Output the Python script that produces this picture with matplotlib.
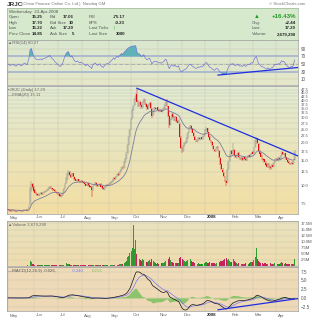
import numpy as np
import pandas as pd
import matplotlib
matplotlib.use("Agg")
import matplotlib.pyplot as plt
from matplotlib.colors import LinearSegmentedColormap
from matplotlib.transforms import blended_transform_factory

plt.rcParams['font.family'] = ['Liberation Sans', 'DejaVu Sans']

# trading days May 2007 - 23 Apr 2008
holidays = ['2007-05-28', '2007-07-04', '2007-09-03', '2007-11-22', '2007-12-25',
            '2008-01-01', '2008-01-21', '2008-02-18', '2008-03-21']
dates = pd.bdate_range('2007-05-01', '2008-04-23', freq='C', holidays=holidays)

# daily prices, month by month
closes = [
    6.75, 6.70, 6.62, 6.68, 6.72, 6.65, 6.60, 6.58, 6.66, 6.70, 6.64, 6.60, 6.62, 6.68, 6.74, 6.70, 6.66, 6.80, 7.10, 9.40, 10.20, 9.70,
    9.20, 8.90, 8.70, 8.60, 8.55, 8.70, 8.80, 8.65, 8.90, 9.00, 9.10, 9.20, 9.40, 9.60, 9.75, 9.55, 9.40, 9.30, 9.10, 8.95, 8.80,
    8.70, 8.50, 8.40, 8.55, 8.80, 9.40, 10.30, 11.20, 12.00, 12.40, 11.80, 11.50, 12.10, 11.60, 11.10, 10.80, 10.90, 11.00, 10.70, 10.60, 10.80,
    10.60, 10.40, 10.20, 10.00, 10.30, 10.10, 9.80, 9.70, 9.30, 9.90, 10.20, 10.40, 10.10, 9.90, 10.00, 10.20, 9.80, 9.60, 9.40, 9.70, 9.90, 10.10, 10.00,
    10.20, 10.40, 10.60, 10.90, 11.30, 11.10, 11.60, 12.00, 11.80, 12.40, 12.90, 13.40, 13.20, 14.60, 15.40, 16.80, 19.20, 22.00, 24.50,
    29.50, 33.80, 36.50, 40.50, 43.00, 39.00, 36.50, 38.20, 37.00, 35.50, 38.50, 40.00, 37.50, 36.00, 34.80, 36.80, 38.00, 35.00, 31.00, 33.50, 35.20, 34.60, 35.40,
    34.20, 33.50, 34.00, 33.20, 34.50, 35.00, 36.80, 38.50, 36.00, 31.00, 26.50, 29.50, 31.50, 30.20, 29.00, 30.50, 28.50, 27.80, 29.00, 22.00, 18.50,
    17.60, 19.00, 19.80, 20.20, 21.50, 23.50, 25.50, 26.20, 25.00, 23.50, 22.20, 21.00, 20.40, 20.80, 21.60, 21.20, 21.80, 21.40, 22.20, 23.00,
    24.50, 25.20, 23.80, 22.00, 20.80, 20.20, 19.20, 18.00, 17.40, 18.20, 18.60, 17.80, 15.80, 14.20, 13.00, 12.40, 11.60, 10.80, 10.40, 12.90, 14.70,
    16.20, 17.40, 16.80, 17.60, 16.40, 15.80, 16.50, 16.90, 15.90, 15.40, 15.60, 15.20, 15.80, 15.50, 15.10, 15.70, 16.20, 16.00, 16.60, 17.00,
    16.80, 18.50, 20.50, 21.40, 19.80, 17.60, 16.80, 16.00, 15.40, 15.20, 14.60, 14.00, 13.60, 14.20, 13.40, 13.20, 13.80, 13.60, 14.50, 15.20,
    15.40, 15.10, 15.60, 15.30, 16.20, 17.00, 16.60, 16.80, 16.00, 15.20, 14.60, 14.30, 14.10, 14.40, 14.20, 14.85, 17.29,
]
opens = [
    6.80, 6.76, 6.70, 6.60, 6.66, 6.74, 6.66, 6.62, 6.56, 6.68, 6.72, 6.66, 6.58, 6.60, 6.70, 6.76, 6.70, 6.64, 6.82, 7.40, 9.30, 10.30,
    9.70, 9.25, 8.95, 8.75, 8.62, 8.50, 8.72, 8.85, 8.60, 8.85, 9.05, 9.08, 9.22, 9.38, 9.58, 9.80, 9.55, 9.45, 9.32, 9.05, 8.98,
    8.82, 8.72, 8.55, 8.35, 8.58, 8.85, 9.45, 10.40, 11.10, 11.90, 12.50, 11.85, 11.45, 12.20, 11.55, 11.15, 10.75, 10.85, 11.05, 10.75, 10.55,
    10.85, 10.62, 10.45, 10.22, 9.95, 10.35, 10.15, 9.85, 9.75, 9.25, 9.95, 10.25, 10.45, 10.15, 9.85, 10.05, 10.25, 9.85, 9.65, 9.35, 9.75, 9.95, 10.15,
    10.05, 10.25, 10.45, 10.65, 10.95, 11.35, 11.15, 11.65, 12.05, 11.85, 12.45, 12.95, 13.45, 13.30, 14.70, 15.50, 16.90, 19.40, 22.20,
    24.80, 29.80, 34.20, 36.80, 41.00, 44.50, 39.20, 36.30, 38.50, 37.20, 35.30, 38.80, 40.20, 37.30, 36.20, 34.60, 37.00, 38.20, 34.80, 31.20, 33.80, 35.40, 34.40,
    35.50, 34.30, 33.40, 34.10, 33.10, 34.60, 35.10, 36.90, 39.50, 36.20, 30.80, 26.80, 29.60, 31.80, 30.30, 28.80, 30.60, 28.60, 27.70, 27.00, 21.80,
    18.40, 17.40, 19.10, 19.90, 20.30, 21.60, 23.60, 25.70, 26.30, 25.10, 23.40, 22.10, 21.10, 20.30, 20.90, 21.70, 21.10, 21.90, 21.30, 22.30,
    23.10, 24.60, 25.30, 23.70, 22.10, 20.90, 20.30, 19.10, 17.90, 17.50, 18.30, 18.70, 17.60, 15.70, 14.10, 12.90, 12.30, 11.50, 10.70, 10.50, 13.00,
    14.90, 16.30, 17.50, 16.70, 17.80, 16.30, 15.70, 16.60, 17.00, 15.80, 15.30, 15.70, 15.10, 15.90, 15.40, 15.00, 15.80, 16.30, 15.90, 16.70,
    17.10, 16.90, 18.60, 20.60, 21.50, 19.70, 17.50, 16.90, 16.10, 15.30, 15.30, 14.50, 14.10, 13.50, 14.30, 13.50, 13.10, 13.90, 13.50, 14.60,
    15.10, 15.50, 15.00, 15.70, 15.20, 16.30, 17.10, 16.50, 16.90, 15.90, 15.10, 14.70, 14.20, 14.00, 14.50, 14.10, 15.25,
]
highs = [
    6.88, 6.80, 6.74, 6.72, 6.78, 6.76, 6.70, 6.66, 6.70, 6.76, 6.74, 6.68, 6.66, 6.72, 6.80, 6.80, 6.74, 6.86, 7.30, 9.80, 10.70, 10.50,
    9.90, 9.40, 9.05, 8.85, 8.75, 8.80, 8.95, 8.95, 8.98, 9.10, 9.20, 9.30, 9.50, 9.70, 9.90, 9.90, 9.65, 9.52, 9.40, 9.15, 9.05,
    8.95, 8.80, 8.62, 8.65, 8.90, 9.55, 10.50, 11.40, 12.20, 12.80, 12.60, 11.95, 12.30, 12.30, 11.70, 11.25, 11.05, 11.20, 11.15, 10.85, 10.95,
    10.95, 10.75, 10.55, 10.30, 10.40, 10.45, 10.25, 9.95, 9.85, 10.00, 10.30, 10.55, 10.55, 10.20, 10.10, 10.30, 10.35, 9.95, 9.75, 9.80, 10.00, 10.20, 10.25,
    10.35, 10.55, 10.75, 11.05, 11.45, 11.50, 11.75, 12.15, 12.20, 12.55, 13.05, 13.60, 13.70, 14.80, 15.70, 17.10, 19.50, 22.40, 25.00,
    30.00, 34.50, 37.20, 41.50, 45.00, 48.00, 40.20, 38.80, 39.20, 37.80, 39.00, 41.20, 40.80, 37.90, 36.80, 37.40, 38.80, 38.60, 35.20, 34.00, 35.80, 35.90, 35.80,
    35.90, 34.90, 34.40, 34.50, 34.90, 35.60, 37.20, 39.00, 40.50, 36.60, 31.20, 30.00, 32.60, 32.20, 30.80, 31.00, 30.90, 29.00, 29.60, 27.40, 22.30,
    18.80, 19.30, 20.20, 20.60, 21.90, 23.90, 25.90, 26.80, 26.60, 25.40, 23.70, 22.40, 21.40, 21.10, 21.90, 21.90, 22.10, 22.10, 22.50, 23.40,
    24.90, 25.80, 25.60, 23.90, 22.30, 21.10, 20.50, 19.30, 18.10, 18.50, 18.90, 18.90, 17.80, 15.90, 14.30, 13.20, 12.50, 11.70, 10.90, 13.10, 14.90,
    16.60, 17.80, 17.70, 19.80, 18.00, 16.50, 16.80, 17.20, 17.10, 16.00, 15.90, 15.80, 16.00, 16.00, 15.60, 15.90, 16.50, 16.50, 16.80, 17.30,
    17.40, 18.80, 20.90, 22.00, 21.80, 19.90, 17.80, 17.10, 16.30, 15.60, 15.50, 14.80, 14.30, 14.40, 14.50, 13.70, 14.00, 14.10, 14.70, 15.50,
    15.70, 15.60, 15.80, 15.90, 16.40, 17.40, 17.30, 17.00, 17.00, 16.00, 15.30, 14.80, 14.40, 14.60, 14.60, 15.00, 17.70,
]
lows = [
    6.68, 6.64, 6.56, 6.55, 6.62, 6.60, 6.54, 6.52, 6.52, 6.62, 6.60, 6.56, 6.54, 6.56, 6.66, 6.66, 6.60, 6.60, 6.78, 7.30, 9.00, 9.50,
    9.00, 8.80, 8.60, 8.50, 8.40, 8.45, 8.65, 8.55, 8.55, 8.80, 8.95, 9.00, 9.15, 9.30, 9.50, 9.45, 9.30, 9.20, 9.00, 8.85, 8.70,
    8.60, 8.40, 8.25, 8.30, 8.50, 8.80, 9.40, 10.30, 11.00, 11.80, 11.70, 11.35, 11.40, 11.50, 11.00, 10.70, 10.65, 10.80, 10.60, 10.45, 10.50,
    10.50, 10.30, 10.10, 9.90, 9.85, 10.00, 9.70, 9.60, 8.30, 9.15, 9.85, 10.15, 10.00, 9.80, 9.75, 9.95, 9.70, 9.50, 9.30, 9.25, 9.65, 9.85, 9.90,
    9.95, 10.15, 10.35, 10.55, 10.85, 10.95, 11.05, 11.50, 11.70, 11.75, 12.35, 12.85, 13.05, 13.20, 14.50, 15.30, 16.70, 19.20, 21.90,
    24.50, 29.20, 33.60, 36.40, 40.20, 38.50, 35.80, 35.90, 36.50, 34.90, 35.00, 38.20, 37.00, 35.60, 34.20, 34.30, 36.50, 34.60, 30.00, 30.80, 33.30, 34.10, 34.00,
    33.90, 33.10, 33.00, 32.80, 32.90, 34.30, 34.90, 36.60, 35.70, 30.50, 25.50, 26.40, 29.20, 29.80, 28.60, 28.50, 28.20, 27.40, 27.50, 21.60, 18.20,
    17.00, 17.20, 18.90, 19.70, 20.10, 21.40, 23.40, 25.40, 24.80, 23.30, 22.00, 20.80, 20.20, 20.20, 20.70, 21.00, 20.90, 21.20, 21.10, 22.10,
    23.00, 24.30, 23.50, 21.80, 20.50, 19.90, 19.00, 17.80, 17.10, 17.30, 18.00, 17.50, 15.60, 14.00, 12.80, 12.20, 11.40, 10.60, 10.00, 10.40, 12.80,
    14.70, 16.00, 16.60, 16.50, 16.20, 15.60, 15.50, 16.40, 15.70, 15.20, 15.10, 15.00, 14.90, 15.30, 14.90, 14.90, 15.60, 15.80, 15.70, 16.50,
    16.60, 16.70, 18.40, 20.30, 19.50, 17.40, 16.60, 15.80, 15.20, 15.00, 14.40, 13.80, 13.40, 13.30, 13.20, 12.90, 13.00, 13.40, 13.40, 14.40,
    15.00, 14.90, 14.90, 15.20, 15.10, 16.20, 16.40, 16.40, 15.90, 15.10, 14.50, 14.20, 13.90, 13.90, 14.10, 14.00, 15.22,
]
volumes_m = [
    0.2, 0.15, 0.2, 0.15, 0.2, 0.15, 0.2, 0.15, 0.2, 0.15, 0.2, 0.2, 0.15, 0.2, 0.15, 0.2, 0.2, 0.3, 0.6, 2.0, 1.6, 0.9,
    0.7, 0.5, 0.4, 0.3, 0.4, 0.3, 0.3, 0.3, 0.4, 0.3, 0.3, 0.4, 0.4, 0.5, 0.4, 0.3, 0.3, 0.3, 0.3, 0.3, 0.3,
    0.3, 0.3, 0.3, 0.3, 0.4, 0.6, 1.0, 1.2, 1.0, 0.9, 0.7, 0.5, 0.6, 0.5, 0.4, 0.4, 0.3, 0.3, 0.3, 0.3, 0.3,
    0.3, 0.3, 0.3, 0.4, 0.3, 0.3, 0.4, 0.4, 0.6, 0.4, 0.3, 0.3, 0.3, 0.3, 0.3, 0.3, 0.3, 0.3, 0.3, 0.3, 0.3, 0.3, 0.3,
    0.3, 0.3, 0.3, 0.4, 0.5, 0.4, 0.5, 0.6, 0.5, 0.7, 0.8, 0.9, 0.8, 1.2, 1.5, 2.2, 3.5, 4.0, 5.5,
    6.0, 7.5, 17.0, 7.0, 10.5, 5.0, 3.5, 3.0, 2.5, 2.0, 3.0, 2.5, 2.0, 1.8, 1.5, 2.0, 2.5, 1.5, 2.8, 2.0, 1.5, 1.2, 1.0,
    1.2, 1.0, 1.0, 1.1, 1.2, 1.3, 1.6, 2.0, 2.2, 3.0, 3.5, 2.4, 1.8, 1.5, 1.3, 1.4, 1.2, 1.1, 1.3, 3.2, 3.8,
    3.0, 2.6, 2.0, 1.8, 2.0, 2.6, 3.2, 3.0, 2.2, 1.8, 1.5, 1.4, 1.2, 1.0, 1.1, 0.9, 0.8, 0.8, 1.0, 1.2,
    1.5, 1.6, 1.4, 1.3, 1.5, 1.2, 1.3, 1.4, 1.2, 1.0, 1.1, 1.2, 1.8, 2.0, 2.2, 2.0, 2.4, 2.8, 3.2, 2.6, 3.0,
    2.0, 1.8, 1.6, 2.8, 2.0, 1.5, 1.2, 1.0, 1.1, 1.0, 0.9, 1.0, 0.9, 1.0, 1.1, 0.9, 1.0, 1.2, 1.6, 1.8,
    1.5, 2.5, 3.5, 7.2, 3.0, 2.0, 1.6, 1.4, 1.2, 1.0, 1.2, 1.4, 1.0, 0.9, 1.0, 1.2, 0.9, 0.8, 1.0, 1.2,
    1.0, 0.9, 1.0, 0.9, 1.2, 1.6, 1.2, 1.0, 1.1, 0.9, 1.0, 0.8, 0.9, 0.8, 0.9, 1.0, 2.68,
]

# hand-drawn trend lines: (date, value) endpoints
price_trend = [('2007-10-08', 48.5), ('2008-04-30', 15.9)]
rsi_trend = [('2008-01-17', 21.0), ('2008-04-30', 41.5)]
macd_trend = [('2008-01-17', -3.4), ('2008-04-30', -0.1)]

price_ticks = [7.5, 10.0, 12.5, 15.0, 17.5, 20.0, 22.5, 25.0, 27.5, 30.0, 32.5, 35.0, 37.5, 40.0, 42.5, 45.0, 47.5]
rsi_ticks = [10, 30, 50, 70, 90]
vol_ticks = [2.5, 5.0, 7.5, 10.0, 12.5, 15.0, 17.5]
macd_ticks = [-2.5, 0.0, 2.5, 5.0, 7.5]

df = pd.DataFrame({'open': opens, 'high': highs, 'low': lows, 'close': closes,
                   'vol': volumes_m}, index=dates)
x = np.arange(len(df))
c = df['close']
ema20 = c.ewm(span=20, adjust=False).mean()

# Wilder RSI(14), seeded neutral since no earlier history is shown
avg_up, avg_dn = 0.06, 0.06
rsi_vals = [50.0]
for k in range(1, len(closes)):
    ch = closes[k] - closes[k - 1]
    avg_up = (avg_up * 13 + max(ch, 0)) / 14
    avg_dn = (avg_dn * 13 + max(-ch, 0)) / 14
    rsi_vals.append(100 - 100 / (1 + avg_up / avg_dn))
rsi = pd.Series(rsi_vals, index=dates)

macd = c.ewm(span=12, adjust=False).mean() - c.ewm(span=26, adjust=False).mean()
signal = macd.ewm(span=9, adjust=False).mean()
hist = macd - signal
month_starts = [i for i in range(len(df)) if i == 0 or dates[i].month != dates[i - 1].month]
month_names = ['2008' if dates[i].month == 1 else dates[i].strftime('%b') for i in month_starts]


def pos(date):
    t = pd.Timestamp(date)
    if t <= dates[-1]:
        return dates.searchsorted(t)
    return len(dates) - 1 + np.busday_count(dates[-1].date(), t.date())


W, H = 320, 320
fig = plt.figure(figsize=(3.2, 3.2), dpi=100)
fig.patch.set_facecolor('white')


def rect(x0, y0, x1, y1):
    return [x0 / W, 1 - y1 / H, (x1 - x0) / W, (y1 - y0) / H]


def T(px, py, s, **kw):
    kw.setdefault('fontsize', 3.2)
    kw.setdefault('color', '#555555')
    fig.text(px / W, 1 - py / H, s, va='center', **kw)


def panel(y0, y1, top, bottom, lsize=3.3):
    r = rect(7, y0, 298, y1)
    bg = fig.add_axes(r, zorder=0)
    cmap = LinearSegmentedColormap.from_list('bg', [top, bottom])
    bg.imshow(np.linspace(0, 1, 64)[:, None], aspect='auto', cmap=cmap,
              extent=[0, 1, 0, 1], origin='upper')
    bg.axis('off')
    ax = fig.add_axes(r, zorder=1)
    ax.set_facecolor('none')
    ax.set_xlim(-1, 250)
    ax.set_xticks(month_starts)
    ax.tick_params(axis='x', length=0, labelbottom=False)
    ax.yaxis.tick_right()
    ax.tick_params(axis='y', length=0, labelsize=lsize, pad=2, labelcolor='#555555')
    ax.grid(True, color='#c9c9b0', lw=0.35)
    ax.set_axisbelow(True)
    for s in ax.spines.values():
        s.set_color('#9a9a9a')
        s.set_linewidth(0.5)
    return ax


# header
T(7, 4, 'JRJC', fontsize=4.6, weight='bold', color='#333333')
T(22.5, 4, '(China Finance Online Co. Ltd.)  Nasdaq GM', fontsize=3.1, color='#777777')
T(305, 4, '\u00a9 StockCharts.com', fontsize=3.1, color='#777777', ha='right')

info = fig.add_axes(rect(7, 8, 298, 40), zorder=0)
info.set_facecolor('#d6e9cd')
info.set_xticks([])
info.set_yticks([])
for s in info.spines.values():
    s.set_color('#9fb89a')
    s.set_linewidth(0.5)
T(9, 11.5, 'Wednesday  23-Apr-2008')
rows = [('Open', '15.25', 'Bid', '17.06', 'P/E', '-75.17'),
        ('High', '17.70', 'Bid Size', '10', 'EPS', '-0.23'),
        ('Low', '15.22', 'Ask', '17.29', 'Last Ticks', ''),
        ('Prev Close', '14.85', 'Ask Size', '5', 'Last Size', '3000')]
for k, (a, av, b, bv, e, ev) in enumerate(rows):
    yy = 17 + 5.7 * k
    T(9, yy, a)
    T(43, yy, av, ha='right', weight='bold', color='#222222')
    T(50, yy, b)
    T(74, yy, bv, ha='right', weight='bold', color='#222222')
    T(89, yy, e)
    T(125, yy, ev, ha='right', weight='bold', color='#222222')
T(114, 28.4, '\u2191', color='#22aa22', weight='bold', ha='center', fontsize=4.2)
T(257, 17, '\u25b2', color='#229922', fontsize=4.2, ha='center')
T(296, 17, '+16.43%', ha='right', weight='bold', color='#229922', fontsize=4.4)
T(252, 22.7, 'Chg:')
T(296, 22.7, '+2.44', ha='right', weight='bold', color='#222222')
T(252, 28.4, 'Last:')
T(296, 28.4, '17.29', ha='right', weight='bold', color='#222222')
T(252, 34.1, 'Volume:')
T(296, 34.1, '2,679,290', ha='right', weight='bold', color='#222222')

# RSI panel
ax_r = panel(40, 85, '#d9e7cf', '#e6e7c9')
ax_r.set_ylim(-5, 113)
ax_r.set_yticks(rsi_ticks)
ax_r.axhline(70, color='#aab8cf', lw=1.3, zorder=1)
ax_r.axhline(30, color='#aab8cf', lw=1.3, zorder=1)
ax_r.axhline(50, color='#8a8aa0', lw=0.4, ls='-.', zorder=1)
ax_r.fill_between(x, rsi, 70, where=rsi > 70, color='#5fb3b8', lw=0, interpolate=True, zorder=2)
ax_r.fill_between(x, rsi, 30, where=rsi < 30, color='#5fb3b8', lw=0, interpolate=True, zorder=2)
ax_r.plot(x, rsi, color='#6c6cd6', lw=0.45, zorder=3)
ax_r.plot([pos(p[0]) for p in rsi_trend], [p[1] for p in rsi_trend], color='#1f2ee0', lw=0.9, zorder=4)
ax_r.text(0.005, 0.93, '\u25b2RSI(14) 60.27', transform=ax_r.transAxes, fontsize=3.1,
          color='#666666', va='center')

# price panel
ax_p = panel(86, 214, '#e1ebd3', '#f3dea3', lsize=2.9)
ax_p.set_yscale('log')
ax_p.set_ylim(6.3, 50.3)
ax_p.set_yticks(price_ticks)
ax_p.set_yticklabels([f'{v:.1f}' for v in price_ticks])
ax_p.yaxis.set_minor_locator(matplotlib.ticker.NullLocator())
prev = df['close'].shift(1).fillna(df['open'])
for i in x:
    o, h, l, cl = opens[i], highs[i], lows[i], closes[i]
    down = cl < prev.iloc[i]
    col = '#e01010' if down else '#222222'
    ax_p.vlines(i, l, h, color=col if down else '#8a8a80', lw=0.35, zorder=3)
    if cl < o:
        ax_p.bar(i, o - cl, bottom=cl, width=0.75, color=col, lw=0, zorder=4)
    else:
        ax_p.bar(i, max(cl - o, 0.02), bottom=o, width=0.75, facecolor='#c8c4b0',
                 edgecolor=col if down else '#9a9a90', lw=0.25, zorder=4)
ax_p.plot(x, ema20, color='#7e7e9c', lw=0.6, zorder=5)
ax_p.plot([pos(p[0]) for p in price_trend], [p[1] for p in price_trend], color='#1f2ee0', lw=0.9, zorder=6)
ax_p.text(0.005, 0.965, '\u25aaJRJC (Daily) 17.29', transform=ax_p.transAxes, fontsize=3.1,
          color='#666666', va='center')
ax_p.text(0.005, 0.933, '\u2014EMA(20) 15.11', transform=ax_p.transAxes, fontsize=3.1,
          color='#666666', va='center')

# volume panel
ax_v = panel(221, 266, '#e9e2bd', '#efdcae', lsize=3.1)
ax_v.set_ylim(0, 18.5)
ax_v.set_yticks(vol_ticks)
ax_v.set_yticklabels([f'{v:.1f}M' for v in vol_ticks])
vcol = ['#2f9a2f' if closes[i] >= prev.iloc[i] else '#c3245a' for i in x]
ax_v.bar(x, df['vol'], width=0.8, color=vcol, lw=0, zorder=3)
ax_v.text(0.005, 0.92, '\u25b2Volume 2,679,290', transform=ax_v.transAxes, fontsize=3.1,
          color='#666666', va='center')

# MACD panel
ax_m = panel(267, 311, '#efdcb8', '#f0d8b6')
ax_m.set_ylim(-3.75, 8.85)
ax_m.set_yticks(macd_ticks)
ax_m.fill_between(x, hist, 0, color='#8cc46c', lw=0, zorder=2)
ax_m.plot(x, signal, color='#7a78f0', lw=0.5, zorder=3)
ax_m.plot(x, macd, color='#111111', lw=0.5, zorder=4)
ax_m.plot([pos(p[0]) for p in macd_trend], [p[1] for p in macd_trend], color='#1f2ee0', lw=0.9, zorder=5)
ax_m.text(0.005, 0.92, '\u2014MACD(12,26,9) -0.026,', transform=ax_m.transAxes, fontsize=3.1,
          color='#555555', va='center')
ax_m.text(0.222, 0.92, '-0.240,', transform=ax_m.transAxes, fontsize=3.1, color='#7a78f0', va='center')
ax_m.text(0.292, 0.92, '0.213', transform=ax_m.transAxes, fontsize=3.1, color='#7fbf60', va='center')

# month labels
for ax_, ypix in [(ax_p, 217.5), (ax_m, 315.5)]:
    tr = blended_transform_factory(ax_.transData, fig.transFigure)
    for i, name in zip(month_starts, month_names):
        ax_.text(i + 1.5, 1 - ypix / H, name, transform=tr, fontsize=3.2, va='center',
                 color='#222222' if name == '2008' else '#666666',
                 weight='bold' if name == '2008' else 'normal', clip_on=False)

fig.savefig('out.png', dpi=100)
